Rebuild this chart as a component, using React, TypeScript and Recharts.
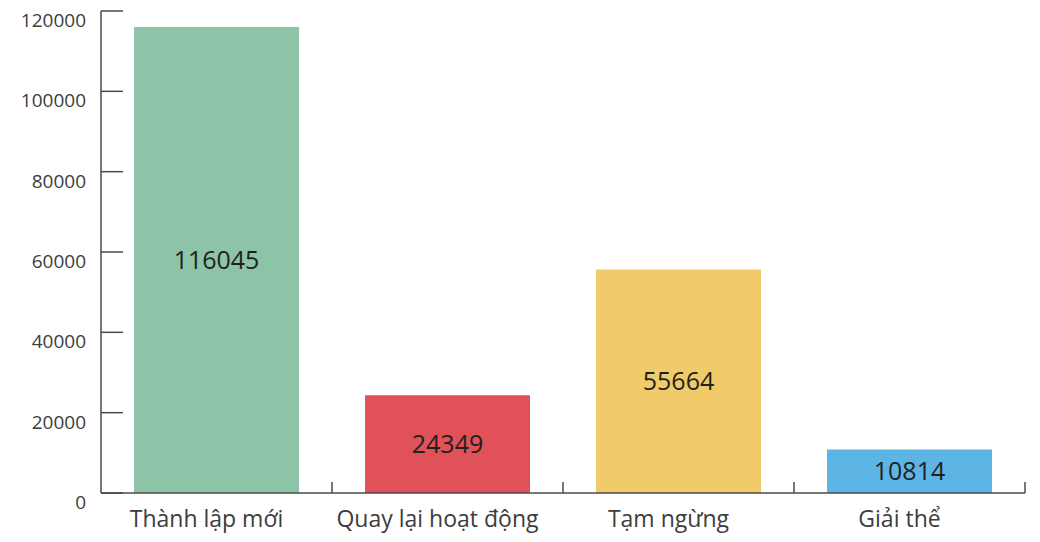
import React from 'react';
import { BarChart, Bar, XAxis, YAxis, Cell, LabelList } from 'recharts';

const categories = ['Thành lập mới', 'Quay lại hoạt động', 'Tạm ngừng', 'Giải thể'];
const counts = [116045, 24349, 55664, 10814];
const barColors = ['#8DC3A7', '#E05257', '#F1CB69', '#5DB5E6'];
const yTicks = [0, 20000, 40000, 60000, 80000, 100000, 120000];

const data = categories.map((name, i) => ({ name, value: counts[i] }));

const FONT = '"Open Sans", "Noto Sans", sans-serif';
const AXIS = '#4a4a4a';

const YTick = ({ x, y, payload }: any) => (
  <g>
    <line x1={x + 15} x2={x + 37} y1={y} y2={y} stroke={AXIS} strokeWidth={1.5} />
    <text
      x={x}
      y={y + 9}
      textAnchor="end"
      dominantBaseline="central"
      fill="#3d3d3d"
      fontSize={19}
      fontFamily={FONT}
    >
      {payload.value}
    </text>
  </g>
);

const XTick = ({ x, y, payload }: any) => {
  const half = payload.offset || 115.5;
  return (
    <g>
      <line x1={x + half} x2={x + half} y1={y} y2={y - 11} stroke={AXIS} strokeWidth={1.5} />
      <text
        x={x - 10}
        y={y + 25}
        textAnchor="middle"
        dominantBaseline="central"
        fill="#3d3d3d"
        fontSize={23}
        fontFamily={FONT}
      >
        {payload.value}
      </text>
    </g>
  );
};

export default function App() {
  return (
    <div style={{ position: 'absolute', left: 0, top: 0, background: '#fff' }}>
      <BarChart
        width={1040}
        height={542}
        data={data}
        margin={{ top: 11, right: 15, bottom: 0, left: 0 }}
        barCategoryGap="14.3%"
      >
        <XAxis
          dataKey="name"
          axisLine={{ stroke: AXIS, strokeWidth: 1.5 }}
          tickLine={false}
          tickSize={0}
          tickMargin={0}
          height={49}
          tick={<XTick />}
          interval={0}
        />
        <YAxis
          domain={[0, 120000]}
          ticks={yTicks}
          width={101}
          axisLine={{ stroke: AXIS, strokeWidth: 1.5 }}
          tickLine={false}
          tickSize={0}
          tickMargin={15}
          tick={<YTick />}
          interval={0}
        />
        <Bar dataKey="value" isAnimationActive={false}>
          {data.map((d, i) => (
            <Cell key={d.name} fill={barColors[i]} />
          ))}
          <LabelList
            dataKey="value"
            position="center"
            fill="#231f20"
            fontSize={25}
            fontFamily={FONT}
          />
        </Bar>
      </BarChart>
    </div>
  );
}
